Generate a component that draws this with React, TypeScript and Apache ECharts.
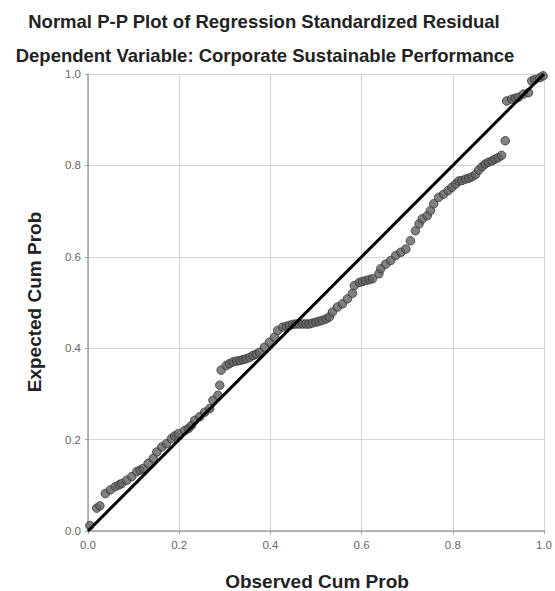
import React, { useEffect, useRef } from "react";
import * as echarts from "echarts";

const titleText = "Normal P-P Plot of Regression Standardized Residual";
const subtitleText = "Dependent Variable: Corporate Sustainable Performance";
const xAxisTitle = "Observed Cum Prob";
const yAxisTitle = "Expected Cum Prob";

const observedCumProb = [
  0.004, 0.019, 0.026, 0.038, 0.049, 0.06, 0.068, 0.074, 0.085, 0.096, 0.107, 0.114, 0.121, 0.132,
  0.143, 0.151, 0.162, 0.172, 0.183, 0.19, 0.198, 0.212, 0.22, 0.227, 0.234, 0.245, 0.256, 0.267,
  0.274, 0.285, 0.289, 0.292, 0.303, 0.31, 0.318, 0.326, 0.333, 0.34, 0.347, 0.355, 0.362, 0.369,
  0.376, 0.387, 0.398, 0.409, 0.416, 0.427, 0.435, 0.442, 0.449, 0.456, 0.463, 0.471, 0.478, 0.485,
  0.492, 0.5, 0.507, 0.514, 0.522, 0.529, 0.536, 0.547, 0.558, 0.569, 0.58, 0.584, 0.595, 0.602,
  0.609, 0.617, 0.624, 0.638, 0.642, 0.653, 0.664, 0.675, 0.686, 0.697, 0.707, 0.718, 0.726, 0.733,
  0.744, 0.751, 0.758, 0.769, 0.78, 0.79, 0.798, 0.806, 0.813, 0.82, 0.828, 0.835, 0.842, 0.85,
  0.857, 0.864, 0.871, 0.878, 0.886, 0.893, 0.9, 0.907, 0.915, 0.918, 0.929, 0.937, 0.944, 0.955,
  0.966, 0.973, 0.98, 0.991, 0.998,
];

const expectedCumProb = [
  0.012, 0.05, 0.055, 0.082, 0.09, 0.097, 0.101, 0.104, 0.111, 0.119, 0.13, 0.133, 0.137, 0.148,
  0.159, 0.173, 0.184, 0.191, 0.202, 0.208, 0.213, 0.22, 0.224, 0.231, 0.242, 0.25, 0.26, 0.268,
  0.286, 0.297, 0.319, 0.352, 0.362, 0.366, 0.37, 0.372, 0.373, 0.375, 0.377, 0.38, 0.384, 0.387,
  0.391, 0.402, 0.413, 0.424, 0.439, 0.446, 0.448, 0.45, 0.452, 0.453, 0.453, 0.453, 0.453, 0.453,
  0.455, 0.457, 0.459, 0.461, 0.464, 0.468, 0.479, 0.49, 0.497, 0.508, 0.52, 0.537, 0.544, 0.546,
  0.548, 0.55, 0.552, 0.563, 0.574, 0.584, 0.592, 0.603, 0.61, 0.617, 0.635, 0.657, 0.672, 0.683,
  0.69, 0.701, 0.716, 0.73, 0.737, 0.745, 0.752, 0.759, 0.766, 0.767, 0.77, 0.772, 0.775, 0.78,
  0.79, 0.797, 0.803, 0.807, 0.81, 0.814, 0.817, 0.822, 0.854, 0.941, 0.945, 0.947, 0.949, 0.956,
  0.959, 0.985, 0.988, 0.992, 0.996,
];

const referenceLine = [
  [0, 0],
  [1, 1],
];

const FONT = "'Liberation Sans', Arial, sans-serif";

export default function App() {
  const ref = useRef<HTMLDivElement>(null);

  useEffect(() => {
    document.body.style.margin = "0";
    if (!ref.current) return;
    const chart = echarts.init(ref.current, null, { renderer: "svg" });
    const points = observedCumProb.map((x, i) => [x, expectedCumProb[i]]);
    const axisCommon = {
      type: "value",
      min: 0,
      max: 1,
      interval: 0.2,
      axisLine: { show: true, lineStyle: { color: "#a0a0a0", width: 1.5 } },
      axisTick: { show: true, length: 3, lineStyle: { color: "#a0a0a0" } },
      splitLine: { show: true, lineStyle: { color: "#d4d4d4", width: 1 } },
      axisLabel: {
        fontFamily: FONT,
        fontSize: 11.5,
        color: "#666",
        formatter: (v: number) => v.toFixed(1),
      },
    };
    const titleFont = `bold 18.5px ${FONT}`;
    const axisTitleFont = `bold 19px ${FONT}`;
    chart.setOption({
      animation: false,
      backgroundColor: "#fff",
      grid: { left: 88, right: 9, top: 74, bottom: 60 },
      xAxis: {
        ...axisCommon,
        axisLabel: { ...axisCommon.axisLabel, margin: 8 },
      },
      yAxis: {
        ...axisCommon,
        axisLabel: { ...axisCommon.axisLabel, margin: 7 },
      },
      graphic: [
        {
          type: "text",
          x: 264,
          y: 21,
          style: {
            text: titleText,
            fill: "#222",
            font: titleFont,
            textAlign: "center",
            textVerticalAlign: "middle",
          },
        },
        {
          type: "text",
          x: 265,
          y: 55,
          style: {
            text: subtitleText,
            fill: "#222",
            font: titleFont,
            textAlign: "center",
            textVerticalAlign: "middle",
          },
        },
        {
          type: "text",
          x: 317,
          y: 581,
          style: {
            text: xAxisTitle,
            fill: "#222",
            font: axisTitleFont,
            textAlign: "center",
            textVerticalAlign: "middle",
          },
        },
        {
          type: "text",
          x: 34,
          y: 302,
          rotation: Math.PI / 2,
          style: {
            text: yAxisTitle,
            fill: "#222",
            font: axisTitleFont,
            textAlign: "center",
            textVerticalAlign: "middle",
          },
        },
      ],
      series: [
        {
          type: "scatter",
          data: points,
          symbol: "circle",
          symbolSize: 8.5,
          itemStyle: { color: "#626262", borderColor: "#333", borderWidth: 1 },
          z: 2,
        },
        {
          type: "line",
          data: referenceLine,
          symbol: "none",
          lineStyle: { color: "#000", width: 3 },
          z: 3,
        },
      ],
    });
    return () => chart.dispose();
  }, []);

  return <div ref={ref} style={{ width: 555, height: 591 }} />;
}
